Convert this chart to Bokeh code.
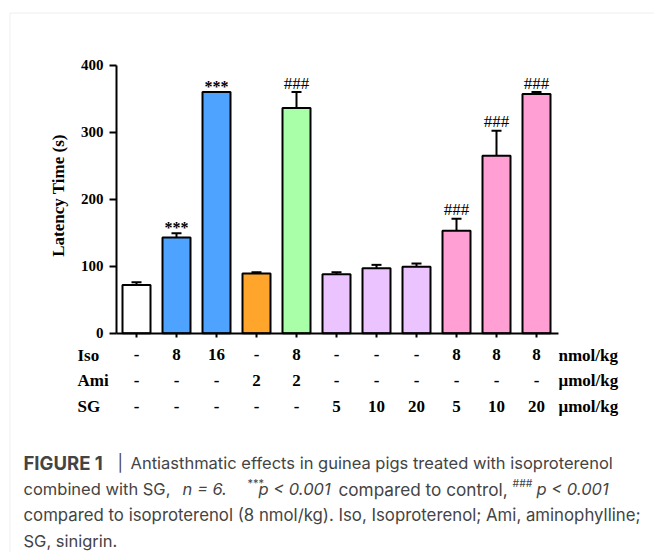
from bokeh.plotting import figure
from bokeh.models import (ColumnDataSource, Range1d, FixedTicker, Whisker, TeeHead,
                          BoxAnnotation)
from bokeh.core.properties import value
from bokeh.embed import file_html
from bokeh.resources import INLINE
import math

# ---------------- data ----------------
groups = list(range(11))
latency = [72, 143, 360, 89, 336, 88, 97, 99, 153, 265, 357]
sem = [4, 6, 0, 2, 24, 3, 5, 5, 18, 37, 3]
bar_colors = ["#ffffff", "#4da3ff", "#4da3ff", "#ffa52c", "#a8ffa8",
              "#ebc3ff", "#ebc3ff", "#ebc3ff", "#ff9fd4", "#ff9fd4", "#ff9fd4"]
marks = ["", "***", "***", "", "###", "", "", "", "###", "###", "###"]
iso_row = ["-", "8", "16", "-", "8", "-", "-", "-", "8", "8", "8"]
ami_row = ["-", "-", "-", "2", "2", "-", "-", "-", "-", "-", "-"]
sg_row = ["-", "-", "-", "-", "-", "5", "10", "20", "5", "10", "20"]
row_names = ["Iso", "Ami", "SG"]
row_units = ["nmol/kg", "\u03bcmol/kg", "\u03bcmol/kg"]
y_ticks = [0, 100, 200, 300, 400]
y_label = "Latency Time (s)"
caption_line1 = ["FIGURE 1", "|", "Antiasthmatic effects in guinea pigs treated with isoproterenol"]
caption_line2 = ["combined with SG,", "n = 6.", "***", "p < 0.001", "compared to control,", "###", "p < 0.001"]
caption_line3 = "compared to isoproterenol (8 nmol/kg). Iso, Isoproterenol; Ami, aminophylline;"
caption_line4 = "SG, sinigrin."

# ---------------- layout (page pixels -> data) ----------------
W, H = 654, 552
PX_X0, PX_PER_X = 136.0, 40.0      # page x of group 0, px per group
PY_Y0, PY_PER_Y = 332.7, 0.67      # page y of value 0, px per unit
BASE_FIX = 5.5                     # text baseline correction (px)


def dx(px):
    return (px - PX_X0) / PX_PER_X


def dy(py):
    return (PY_Y0 - py) / PY_PER_Y


def ty(py):
    return dy(py - BASE_FIX)


p = figure(width=W, height=H, output_backend="svg", toolbar_location=None,
           x_range=Range1d(dx(0), dx(W)), y_range=Range1d(dy(H), dy(0)),
           min_border=0, min_border_left=0, min_border_right=0,
           min_border_top=0, min_border_bottom=0)
p.outline_line_color = None
p.xgrid.visible = False
p.ygrid.visible = False
p.background_fill_color = "white"
p.border_fill_color = "white"

# panel border
p.add_layout(BoxAnnotation(left=dx(9.5), top=dy(12.5), right=dx(W + 20), bottom=dy(H + 20),
                           fill_color=None, line_color="#c8c8c8", line_width=1))

# axes
xa = p.xaxis[0]
xa.fixed_location = 0
xa.bounds = (-0.5, dx(558))
xa.ticker = FixedTicker(ticks=groups)
xa.major_label_overrides = {g: iso_row[g] for g in groups}
xa.major_label_standoff = 12
xa.major_label_text_font = "Liberation Serif"
xa.major_label_text_font_style = "bold"
xa.major_label_text_font_size = "17px"
xa.major_label_text_color = "black"
xa.minor_tick_line_color = None
xa.major_tick_in = 0
xa.major_tick_out = 4
xa.major_tick_line_width = 2
xa.axis_line_width = 2
xa.axis_line_color = "black"
xa.major_tick_line_color = "black"

ya = p.yaxis[0]
ya.fixed_location = -0.5
ya.bounds = (0, 400)
ya.ticker = FixedTicker(ticks=y_ticks)
ya.minor_tick_line_color = None
ya.major_tick_in = 0
ya.major_tick_out = 7
ya.major_tick_line_width = 2
ya.axis_line_width = 2
ya.axis_line_color = "black"
ya.major_tick_line_color = "black"
ya.major_label_standoff = 6
ya.major_label_text_font = "Liberation Serif"
ya.major_label_text_font_style = "bold"
ya.major_label_text_font_size = "15px"
ya.major_label_text_color = "black"

# bars + error bars
upper = [v + e for v, e in zip(latency, sem)]
src = ColumnDataSource(dict(x=groups, top=latency, upper=upper, color=bar_colors))
p.vbar(x="x", top="top", bottom=0, width=0.7, fill_color="color",
       line_color="black", line_width=2, source=src)
p.add_layout(Whisker(source=src, base="x", lower="top", upper="upper",
                     line_color="black", line_width=2, lower_head=None,
                     upper_head=TeeHead(size=10, line_width=2, line_color="black")))

# significance marks
sx = [g for g in groups if marks[g] == "***"]
p.text(x=sx, y=[upper[g] for g in sx], text=[marks[g] for g in sx],
       text_align="center", text_baseline="alphabetic", y_offset=-6,
       text_font=value("Liberation Serif"), text_font_style="bold",
       text_font_size="16px", text_color="black")
hx = [g for g in groups if marks[g] == "###"]
p.text(x=hx, y=[upper[g] for g in hx], text=[marks[g] for g in hx],
       text_align="center", text_baseline="alphabetic", y_offset=-9,
       text_font=value("Liberation Serif"), text_font_size="17px", text_color="black")

# y label
p.text(x=[dx(63 - BASE_FIX)], y=[dy(195)], text=[y_label], angle=math.pi / 2,
       text_align="center", text_baseline="alphabetic",
       text_font=value("Liberation Serif"), text_font_style="bold",
       text_font_size="17px", text_color="black")

# treatment table (Iso values are the x-axis tick labels)
row_baselines = [360, 385.5, 411]
for name, unit, row, by in zip(row_names, row_units, [None, ami_row, sg_row], row_baselines):
    yy = ty(by)
    if row is not None:
        p.text(x=groups, y=[yy] * len(groups), text=row, text_align="center",
               text_baseline="alphabetic", text_font=value("Liberation Serif"),
               text_font_style="bold", text_font_size="17px", text_color="black")
    p.text(x=[dx(77)], y=[yy], text=[name], text_align="left", text_baseline="alphabetic",
           text_font=value("Liberation Serif"), text_font_style="bold",
           text_font_size="17px", text_color="black")
    p.text(x=[dx(558)], y=[yy], text=[unit], text_align="left", text_baseline="alphabetic",
           text_font=value("Liberation Serif"), text_font_style="bold",
           text_font_size="17px", text_color="black")

# caption
CF = "Inter"
CS = "16.5px"
CC = "#444444"


def cap(txt, px, py, style="normal", size=CS):
    p.text(x=[dx(px)], y=[ty(py)], text=[txt], text_align="left", text_baseline="alphabetic",
           text_font=value(CF), text_font_style=style, text_font_size=size, text_color=CC)


cap(caption_line1[0], 23, 468, "bold", "18.5px")
cap(caption_line1[1], 117, 468)
cap(caption_line1[2], 130, 468)
cap(caption_line2[0], 23, 494)
cap(caption_line2[1], 182, 494, "italic")
cap(caption_line2[2], 247, 488, "normal", "11px")
cap(caption_line2[3], 258, 494, "italic")
cap(caption_line2[4], 338, 494, "normal", "17.2px")
cap(caption_line2[5], 512, 488, "normal", "10.5px")
cap(caption_line2[6], 536, 494, "italic")
cap(caption_line3, 23, 520, "normal", "16.8px")
cap(caption_line4, 23, 546)

open("out.html", "w").write(file_html(p, INLINE))
